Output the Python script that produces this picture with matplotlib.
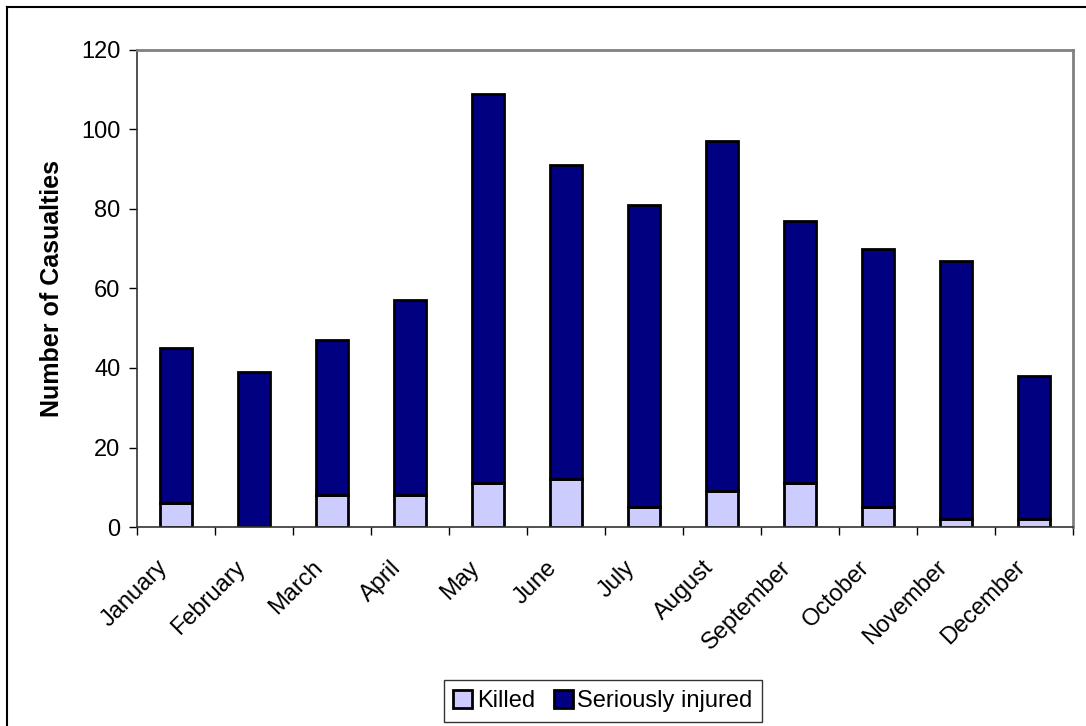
import numpy as np
import matplotlib.pyplot as plt
import matplotlib.transforms as mtransforms
from matplotlib.lines import Line2D

plt.rcParams['font.family'] = ['Liberation Sans', 'DejaVu Sans']

months = ['January', 'February', 'March', 'April', 'May', 'June', 'July',
          'August', 'September', 'October', 'November', 'December']
killed = [6, 0, 8, 8, 11, 12, 5, 9, 11, 5, 2, 2]
injured = [39, 39, 39, 49, 98, 79, 76, 88, 66, 65, 65, 36]

fig = plt.figure(figsize=(10.86, 7.26), dpi=100)
ax = fig.add_axes([137 / 1086, 1 - 527 / 726, 936 / 1086, 477 / 726])

x = np.arange(len(months))
ax.bar(x, killed, width=0.41, color='#ccccff', edgecolor='black', linewidth=2, label='Killed')
ax.bar(x, injured, width=0.41, bottom=killed, color='#000080', edgecolor='black',
       linewidth=2, label='Seriously injured')

ax.set_xlim(-0.5, 11.5)
ax.set_ylim(0, 120)
ax.set_yticks(range(0, 121, 20))
ax.tick_params(axis='y', labelsize=17, length=6, width=1, direction='out', pad=6)
ax.set_xticks(np.arange(-0.5, 12, 1))
ax.set_xticklabels([])
ax.set_xticks(x, minor=True)
ax.set_xticklabels(months, minor=True, rotation=45, ha='right', rotation_mode='anchor', fontsize=17)
ax.tick_params(axis='x', which='major', length=6, width=1, direction='out')
ax.tick_params(axis='x', which='minor', length=0, pad=14)

# nudge month labels left/down like the original
offset = mtransforms.ScaledTranslation(-20 / 100, -10 / 100, fig.dpi_scale_trans)
for lbl in ax.get_xticklabels(minor=True):
    lbl.set_transform(lbl.get_transform() + offset)

for s in ['top', 'right']:
    ax.spines[s].set_color('#808080')
    ax.spines[s].set_linewidth(2)
for s in ['left', 'bottom']:
    ax.spines[s].set_color('#333333')
    ax.spines[s].set_linewidth(1.2)

ax.set_ylabel('Number of Casualties', fontsize=18, fontweight='bold', labelpad=12)

leg = fig.legend(loc='center', bbox_to_anchor=(603 / 1086, 1 - 701 / 726), ncol=2,
                 fontsize=17, frameon=True, fancybox=False, edgecolor='black',
                 handlelength=0.8, handleheight=0.8, handletextpad=0.2, columnspacing=0.8,
                 borderpad=0.4, borderaxespad=0)
leg.get_frame().set_linewidth(1)

# outer chart border (left and top visible)
fig.add_artist(Line2D([7 / 1086, 7 / 1086], [0, 1 - 7 / 726], color='black', linewidth=1.5))
fig.add_artist(Line2D([7 / 1086, 1], [1 - 7 / 726, 1 - 7 / 726], color='black', linewidth=1.5))

fig.savefig('out.png', dpi=100)
